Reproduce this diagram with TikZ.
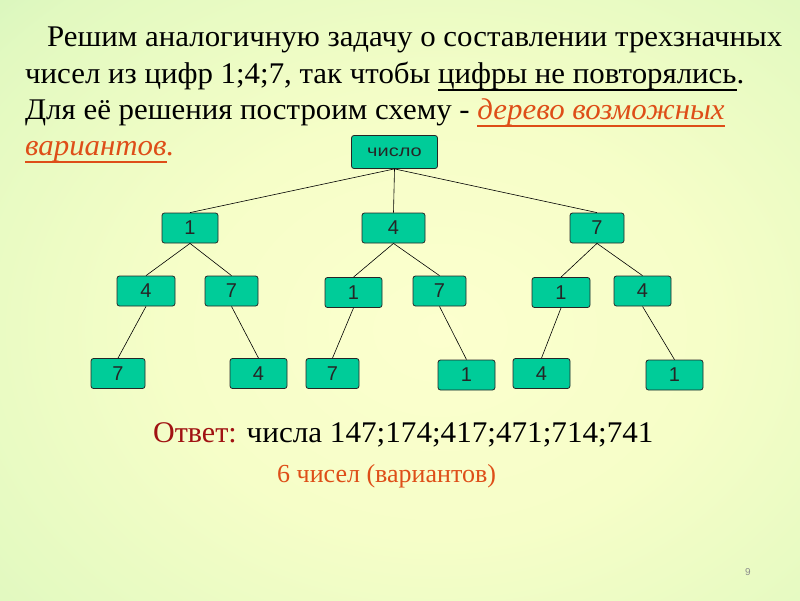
\documentclass[tikz,border=0pt]{standalone}
\usepackage{fontspec}
\setmainfont{Liberation Serif}
\newfontfamily\titlefont{Liberation Serif}
\newfontfamily\nodefont{Liberation Sans}
\definecolor{nodefill}{RGB}{0,204,153}
\definecolor{orng}{RGB}{222,78,24}
\definecolor{ansred}{RGB}{160,18,18}
\definecolor{bgA}{RGB}{252,255,206}
\definecolor{bgB}{RGB}{246,254,200}
\definecolor{bgC}{RGB}{226,249,192}
\definecolor{bgD}{RGB}{200,241,185}
\definecolor{bgE}{RGB}{186,235,178}
\definecolor{bgF}{RGB}{178,230,174}
\pgfdeclareradialshading{bgshade}{\pgfpoint{0bp}{0bp}}{color(0bp)=(bgA); color(14bp)=(bgB); color(29bp)=(bgC); color(40bp)=(bgD); color(50bp)=(bgE); color(72bp)=(bgF)}
\newcommand\myul[1]{\setbox0\hbox{#1}\rlap{\rule[-8pt]{\wd0}{1.6pt}}\box0}
\newlength\tw
\AtBeginDocument{%
  \settowidth\tw{\titlefont\fontsize{30}{36}\selectfont Решим аналогичную задачу о составлении трехзначных}%
  \pgfmathsetmacro\tsx{735/\tw}%
  \global\let\tsx\tsx}
\tikzset{
  tnode/.style={draw=black!85, line width=0.8pt, fill=nodefill, rounded corners=2.5pt, minimum height=30, inner sep=0pt,
    font=\nodefont\fontsize{20}{20}\selectfont, text=black!85},
  edge/.style={draw=black, line width=0.6pt},
  tline/.style={anchor=base west, inner sep=0pt, font=\titlefont\fontsize{30}{36}\selectfont}
}
\begin{document}
\begin{tikzpicture}[x=1pt,y=-1pt]
\useasboundingbox (0,0) rectangle (800,600);
\begin{scope}
\clip (0,0) rectangle (800,600);
\shade[shading=bgshade] (-40,-40) rectangle (920,700);
\end{scope}
% title
\node[tline] (t1) at (47,46) {\scalebox{\tsx}[1]{Решим аналогичную задачу о составлении трехзначных}};
\node[tline] (t2) at (25,83) {\scalebox{\tsx}[1]{чисел из цифр 1;4;7, так чтобы \myul{цифры не повторялись}.}};
\node[tline] (t3) at (25,119) {\scalebox{\tsx}[1]{Для её решения построим схему - \textcolor{orng}{\itshape\myul{дерево возможных}}}};
\node[tline] (t4) at (25,155) {\scalebox{\tsx}[1]{\textcolor{orng}{\itshape\myul{вариантов}.}}};
% tree
\node[tnode, minimum width=86, minimum height=33, font=\nodefont\fontsize{16}{16}\selectfont] (root) at (394.5,152) {\scalebox{1.25}[1]{число}};
\node[tnode, minimum width=56] (n1) at (190,228) {1};
\node[tnode, minimum width=63] (n4) at (393.5,228) {4};
\node[tnode, minimum width=54] (n7) at (597,228) {7};
\node[tnode, minimum width=58] (a4) at (146,291) {4};
\node[tnode, minimum width=53] (a7) at (231.5,291) {7};
\node[tnode, minimum width=57] (b1) at (353.5,292.5) {1};
\node[tnode, minimum width=53] (b7) at (439.5,291) {7};
\node[tnode, minimum width=58] (c1) at (561,292.5) {1};
\node[tnode, minimum width=57] (c4) at (642.5,291) {4};
\node[tnode, minimum width=54] (a47) at (118,373.5) {7};
\node[tnode, minimum width=57] (a74) at (258.5,373.5) {4};
\node[tnode, minimum width=53] (b17) at (332.5,373.5) {7};
\node[tnode, minimum width=57] (b71) at (466.5,375) {1};
\node[tnode, minimum width=57] (c14) at (541.5,373.5) {4};
\node[tnode, minimum width=57] (c41) at (674.5,375) {1};
\foreach \p/\c in {root/n1, root/n4, root/n7, n1/a4, n1/a7, n4/b1, n4/b7, n7/c1, n7/c4, a4/a47, a7/a74, b1/b17, b7/b71, c1/c14, c4/c41}
  \draw[edge] (\p.south) -- (\c.north);
% answer
\node[anchor=base west, inner sep=0pt, font=\fontsize{30}{36}\selectfont] (ans) at (153,442) {\textcolor{ansred}{Ответ:} \scalebox{1.038}[1]{числа 147;174;417;471;714;741}};
\node[anchor=base west, inner sep=0pt, font=\fontsize{26}{30}\selectfont, text=orng] (cnt) at (277,482) {6 чисел (вариантов)};
\node[font=\nodefont\fontsize{10}{10}\selectfont, text=black!45] (pg) at (748,572) {9};
\end{tikzpicture}
\end{document}
